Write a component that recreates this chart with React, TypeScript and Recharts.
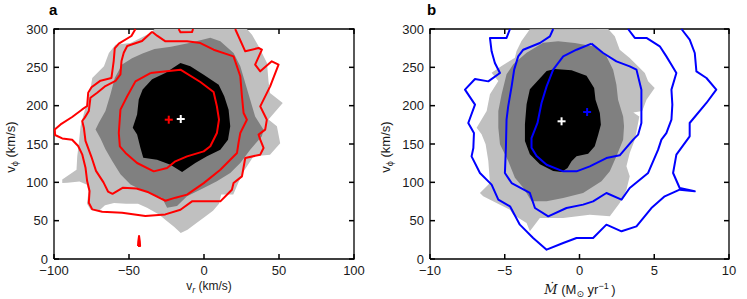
import { ScatterChart, Scatter, XAxis, YAxis } from 'recharts';

type P = [number, number];

const vrTicks = [-100, -50, 0, 50, 100];
const mdotTicks = [-10, -5, 0, 5, 10];
const vphiTicks = [0, 50, 100, 150, 200, 250, 300];
const vphiDomain: [number, number] = [0, 300];

// ---- panel a: v_r vs v_phi ----
const aLight: P[] = [
  [-33, 300], [-35.7, 294.8], [-49, 281.7], [-59, 279.6], [-63.4, 268.7], [-66.7, 251.3],
  [-74.5, 236], [-76, 218.7], [-77.4, 207.8], [-80, 190.4], [-82.3, 173], [-83.4, 151.3],
  [-84.5, 134], [-85, 116.5], [-94.5, 103.8], [-94.5, 99], [-91, 99.5], [-83, 101],
  [-78, 97], [-77, 88], [-78, 72], [-75.5, 64], [-70, 63], [-66, 70], [-60, 73], [-52, 72],
  [-44, 72], [-38, 67], [-30, 58], [-25, 50], [-20, 42], [-15.5, 34], [-11, 38], [-5, 47],
  [0, 54], [6, 63], [10, 72], [11.5, 84], [19.5, 84], [23, 100], [26.4, 114], [33, 134],
  [44, 136], [50.8, 151], [48.6, 173], [43, 182], [52.5, 203.5], [44, 216.5], [43, 231.7],
  [42, 255.6], [36.4, 277.4], [32, 292.6], [28.6, 300],
];
const aMid: P[] = [
  [10.9, 283.9], [4.2, 288.7], [-9.1, 282], [-22, 277], [-33, 274], [-41, 268], [-48, 262],
  [-54.6, 253.8], [-59.5, 236.1], [-62.4, 214.7], [-65.7, 193], [-70.1, 177.8], [-72.3, 169],
  [-69, 157.3], [-65.7, 143], [-61.2, 127.8], [-55.7, 110.4], [-49, 97.3], [-40.2, 88.7],
  [-28, 80], [-24.6, 67], [-18, 69], [-11.3, 81.7], [-0.2, 92.6], [8.6, 101.3], [17.5, 112.2],
  [24.2, 125.2], [30.8, 142.6], [38.6, 160], [39.7, 168.7], [34.1, 186], [30.8, 207.8],
  [27.5, 229.6], [24.2, 251.3], [19.7, 268.7],
];
const aBlack: P[] = [
  [-15.7, 255.7], [-9.1, 251.3], [-0.2, 240.4], [9.8, 227.4], [13.5, 212.2], [16.4, 194.8],
  [17.5, 173], [16, 155.7], [10.9, 142.6], [2, 133.9], [-5.8, 125.2], [-14.6, 113.5],
  [-22.4, 123], [-31.3, 129.6], [-40.5, 132], [-42.4, 145], [-44.6, 162.5], [-47.5, 171.2],
  [-44.6, 188.6], [-43.5, 208.2], [-40.9, 221.2], [-34.6, 234.3], [-25.8, 242.6], [-20, 250],
];
const aRedInner: P[] = [
  [-35.7, 242.6], [-15.7, 247], [-2.4, 230.9], [6.4, 217.8], [8.6, 199.1], [10, 181.7],
  [8.6, 164.3], [4.2, 147], [-0.2, 140.4], [-11.3, 133.9], [-19.1, 127.4], [-24.6, 118.7],
  [-33.5, 114.3], [-44.6, 125.2], [-52.3, 138.3], [-56.1, 147], [-56.8, 164.3], [-55.7, 194.8],
  [-51.2, 212.2], [-45.7, 231.7], [-35.7, 242.6],
];
const aRedMid: P[] = [
  [-34.6, 296.5], [-41.3, 284.3], [-51.2, 277.8], [-53.5, 269], [-55, 258.2], [-55.7, 240.8],
  [-59, 232.2], [-65.7, 225.6], [-71.2, 216.9], [-75.7, 210.4], [-76.8, 193], [-79.5, 184.4],
  [-81.2, 180], [-80.1, 171.2], [-79, 154], [-75, 133], [-72, 115], [-67, 100], [-64, 88],
  [-61, 85], [-54, 93], [-45, 92], [-37, 87], [-25.7, 76], [-19, 80], [-11.3, 84], [-0.2, 99],
  [10.9, 116.5], [22, 138.3], [23, 151.3], [24.2, 164.3], [28.6, 181.7], [26.4, 190.4],
  [25.3, 212.2], [24.2, 238.3], [19.7, 264.3], [6.4, 273], [-2.4, 281.7], [-11.3, 284],
  [-25.7, 283.9], [-31.3, 291.3], [-34.6, 296.5],
];
const aRedOuter: P[] = [
  [-45.7, 300], [-48.4, 290.9], [-56.8, 280.8], [-59.5, 274.7], [-60.2, 258.2], [-61.7, 236.1],
  [-69, 232.6], [-75, 224], [-77.2, 216.9], [-77.9, 199.6], [-81.2, 195.1], [-87.9, 185.2],
  [-95.6, 175.5], [-99.5, 169], [-99.3, 161.7], [-94.5, 157.3], [-87.9, 155.6], [-83.9, 147.4],
  [-81.2, 136.5], [-79, 119.1], [-77.9, 101.7], [-76.3, 88.7], [-76.8, 73.4], [-74.5, 64.7],
  [-67.9, 61.7], [-54.6, 60.4], [-39.1, 56.1], [-25.8, 58.2], [-15.7, 64.3], [-8, 75.2],
  [-2.4, 75.2], [10.9, 75.2], [18.6, 90.4], [19.7, 99.1], [25.3, 107.8], [27.5, 131.7],
  [37.5, 136.1], [39.7, 144.8], [37.5, 155.7], [36.4, 162.2], [40.8, 168.7], [41.9, 181.7],
  [37.5, 199.1], [44.1, 225.2], [49.7, 253.5], [45.2, 257.8], [37.5, 244.8], [34.1, 253.5],
  [38.6, 273], [36.4, 275.2], [27.5, 270.9], [20.8, 300],
];
const aRedTop: P[] = [[-16.9, 300], [-15.7, 295.7], [-8, 296], [-7.3, 300]];
const aRedDrop: P[] = [[-44, 17], [-42.6, 17], [-42.8, 23], [-43.3, 30], [-43.8, 23], [-44, 17]];
const aWhiteMark: P[] = [[-15.5, 182.6]];
const aRedMark: P[] = [[-23.5, 181.7]];

// ---- panel b: Mdot vs v_phi ----
const bLight: P[] = [
  [-3.32, 299.6], [-3.88, 284.3], [-4.21, 271.3], [-4.32, 262.6], [-5.21, 251.7], [-5.88, 243],
  [-5.43, 232.2], [-5.99, 214.8], [-6.21, 193], [-6.88, 171.3], [-6.55, 162.6], [-6.28, 149.6],
  [-6.1, 127.8], [-5.99, 99.1], [-6.66, 86.1], [-6.44, 81.7], [-5.55, 73], [-4.65, 64.3],
  [-4.43, 57.8], [-3.54, 47], [-3.32, 36.1], [-2.65, 53.5], [-1.09, 53.5], [0.69, 57.8],
  [2.03, 55.7], [2.69, 73], [3.14, 90.4], [3.36, 107.8], [3.14, 120.9], [3.36, 138.3],
  [3.7, 155.7], [3.9, 175], [4.0, 186], [3.6, 191], [4.2, 193], [4.48, 207.8], [5.03, 223],
  [4.59, 231.7], [4.37, 242.6], [3.36, 262.2], [2.69, 273], [2.36, 290.4], [1.92, 300],
];
const bMid: P[] = [
  [-2.43, 282.2], [-3.54, 269.1], [-4.43, 253.9], [-4.88, 240.9], [-5.21, 214.8], [-5.43, 193],
  [-5.43, 171.3], [-5.32, 149.6], [-4.77, 127.8], [-4.32, 106.1], [-3.76, 93], [-3.21, 75.2],
  [-2.2, 75.2], [-1.09, 79.6], [0.24, 86.1], [1.47, 101.3], [2.03, 114.3], [2.47, 133.9],
  [2.92, 155.7], [2.98, 173], [2.92, 186], [2.58, 207.8], [2.47, 227.4], [2.25, 247],
  [1.8, 264.3], [0.91, 277.4], [-0.31, 281.7], [-1.43, 283.9],
];
const bBlack: P[] = [
  [-1.65, 247.8], [-0.53, 246.1], [0.47, 239.1], [0.98, 223], [1.07, 207.8], [1.36, 190.4],
  [1.43, 175.2], [1.25, 162.2], [1.02, 147], [0.58, 137.4], [-0.2, 133.9], [-0.53, 127.4],
  [-0.8, 118.7], [-1.2, 113.5], [-1.76, 114.8], [-2.65, 123.5], [-3.32, 136.5], [-3.65, 153.9],
  [-3.65, 175.7], [-3.54, 201.7], [-3.32, 221.3], [-2.2, 245.2],
];
const bBlueInner: P[] = [
  [0.8, 280.9], [-0.2, 273], [-1.09, 264.3], [-1.76, 247], [-2.2, 225.2], [-2.54, 203.5],
  [-2.81, 177.4], [-3.21, 157.8], [-3.21, 145.2], [-2.87, 134.3], [-2.2, 123], [-1.09, 114.3],
  [-0.2, 114.3], [0.69, 120.9], [1.8, 131.7], [2.69, 135.2], [3.59, 155.7], [3.92, 162.2],
  [4.14, 177.4], [4.14, 199.1], [4.14, 220.9], [3.81, 247], [3.36, 251.3], [2.47, 257.8],
  [1.58, 268.7], [0.8, 280.9],
];
const bBlueMid: P[] = [
  [-1.76, 300], [-1.98, 290.4], [-2.65, 281.7], [-3.76, 273], [-4.1, 264.3], [-4.37, 247],
  [-4.54, 225.2], [-4.77, 199.1], [-4.88, 181.7], [-4.92, 147], [-4.99, 112.2], [-4.54, 99.1],
  [-3.32, 86.1], [-2.98, 66.5], [-2.09, 55.7], [-0.87, 66.5], [0.24, 70.9], [0.91, 75.2],
  [1.8, 86.1], [2.81, 77.4], [3.36, 92.6], [4.59, 112.2], [5.26, 142.6], [5.48, 155.7],
  [5.81, 164.3], [6.15, 181.7], [6.21, 201.3], [6.15, 220.9], [6.48, 242.6], [6.15, 253.5],
  [5.81, 264.3], [5.37, 277.4], [4.48, 288.3], [3.7, 288.3], [3.25, 300],
];
const bBlueOuter: P[] = [
  [-4.65, 300], [-4.88, 288.3], [-5.99, 288.3], [-5.88, 270.9], [-5.66, 255.7], [-5.32, 242.6],
  [-6.1, 231.7], [-6.99, 234.8], [-7.66, 220.9], [-6.99, 201.3], [-7.44, 177.4], [-7.06, 164.3],
  [-7.1, 144.8], [-7.22, 133.9], [-6.66, 112.2], [-5.88, 97], [-5.43, 77.4], [-4.65, 68.7],
  [-3.99, 44.8], [-3.1, 27.4], [-2.2, 12.2], [-1.09, 20.9], [-0.2, 27.4], [0.91, 27.4],
  [1.8, 44.8], [2.81, 36.1], [3.81, 42.6], [4.81, 66.5], [5.7, 81.7], [6.7, 90.4], [7.71, 88.3],
  [6.7, 92.6], [6.26, 112.2], [6.48, 136.1], [7.37, 160], [7.37, 177.4], [8.49, 203.5],
  [9.15, 220.9], [8.49, 236.1], [7.82, 244.8], [7.71, 268.7], [7.37, 286.1], [6.82, 300],
];
const bWhiteMark: P[] = [[-1.2, 179.6]];
const bBlueMark: P[] = [[0.51, 191.7]];

const FONT = '"Liberation Sans", Arial, Helvetica, sans-serif';
const FRAME = '#000';
const TICK_TEXT = { fill: '#1a1a1a', fontSize: 13, fontFamily: FONT };

const pts = (arr: P[]) => arr.map(([x, y]) => ({ x, y }));
const fmt = (v: number) => (v < 0 ? '\u2212' + Math.abs(v) : String(v));
const noDot = () => <g />;
const plus = (color: string) => (props: any) => {
  const { cx, cy } = props;
  return (
    <g>
      <line x1={cx - 4} x2={cx + 4} y1={cy} y2={cy} stroke={color} strokeWidth={2} />
      <line x1={cx} x2={cx} y1={cy - 4} y2={cy + 4} stroke={color} strokeWidth={2} />
    </g>
  );
};
// short inward tick mark drawn at a point on the frame
const tickMark = (dx: number, dy: number) => (props: any) => {
  const { cx, cy } = props;
  return <line x1={cx} y1={cy} x2={cx + dx * 5} y2={cy + dy * 5} stroke="#000" strokeWidth={1.5} />;
};

interface PanelProps {
  width: number;
  left: number;
  right: number;
  xDomain: [number, number];
  xTicks: number[];
  fills: { data: P[]; color: string }[];
  lines: { data: P[]; color: string }[];
  marks: { data: P[]; color: string }[];
}

function Panel({ width, left, right, xDomain, xTicks, fills, lines, marks }: PanelProps) {
  const [x0, x1] = xDomain;
  const [y0, y1] = vphiDomain;
  const frame = [{ x: x0, y: y0 }, { x: x0, y: y1 }, { x: x1, y: y1 }, { x: x1, y: y0 }, { x: x0, y: y0 }];
  return (
    <ScatterChart width={width} height={299} margin={{ top: 29, right, bottom: 0, left: 0 }}>
      <XAxis
        dataKey="x"
        type="number"
        domain={xDomain}
        ticks={xTicks}
        tickFormatter={fmt}
        height={40}
        tickMargin={1}
        tickLine={false}
        axisLine={false}
        tick={TICK_TEXT}
      />
      <YAxis
        dataKey="y"
        type="number"
        domain={vphiDomain}
        ticks={vphiTicks}
        width={left}
        tickMargin={0}
        tickLine={false}
        axisLine={false}
        tick={TICK_TEXT}
      />
      <Scatter data={frame} line={{ stroke: FRAME, strokeWidth: 1.3, fill: 'none' }} shape={noDot} isAnimationActive={false} />
      <Scatter data={xTicks.map((t) => ({ x: t, y: y0 }))} shape={tickMark(0, -1)} isAnimationActive={false} />
      <Scatter data={xTicks.map((t) => ({ x: t, y: y1 }))} shape={tickMark(0, 1)} isAnimationActive={false} />
      <Scatter data={vphiTicks.map((t) => ({ x: x0, y: t }))} shape={tickMark(1, 0)} isAnimationActive={false} />
      <Scatter data={vphiTicks.map((t) => ({ x: x1, y: t }))} shape={tickMark(-1, 0)} isAnimationActive={false} />
      {fills.map((f, i) => (
        <Scatter
          key={'f' + i}
          data={pts(f.data)}
          line={{ stroke: 'none', fill: f.color }}
          shape={noDot}
          isAnimationActive={false}
        />
      ))}
      {lines.map((l, i) => (
        <Scatter
          key={'l' + i}
          data={pts(l.data)}
          line={{ stroke: l.color, strokeWidth: 2, fill: 'none', strokeLinejoin: 'round' }}
          shape={noDot}
          isAnimationActive={false}
        />
      ))}
      {marks.map((m, i) => (
        <Scatter key={'m' + i} data={pts(m.data)} shape={plus(m.color)} isAnimationActive={false} />
      ))}
    </ScatterChart>
  );
}

const textBase = { position: 'absolute' as const, fontFamily: FONT, color: '#1a1a1a', whiteSpace: 'nowrap' as const };
const letterStyle = { ...textBase, top: 1, fontWeight: 'bold' as const, fontSize: 15, lineHeight: '17px', color: '#000' };
const subStyle = { fontSize: 9, verticalAlign: '-3px' };
const supStyle = { fontSize: 9, verticalAlign: '5px' };

function YTitle({ left }: { left: number }) {
  return (
    <div style={{ ...textBase, left, top: 147, fontSize: 13, lineHeight: '15px', transform: 'translate(-50%, -50%) rotate(-90deg)' }}>
      v<span style={subStyle}>ϕ</span> (km/s)
    </div>
  );
}

export default function App() {
  return (
    <div style={{ position: 'absolute', left: 0, top: 0, width: 747, height: 299, background: '#fff' }}>
      <div style={{ position: 'absolute', left: 0, top: 0 }}>
        <Panel
          width={375}
          left={54}
          right={21}
          xDomain={[-100, 100]}
          xTicks={vrTicks}
          fills={[
            { data: aLight, color: '#c0c0c0' },
            { data: aMid, color: '#808080' },
            { data: aBlack, color: '#000000' },
          ]}
          lines={[
            { data: aRedInner, color: '#ff0000' },
            { data: aRedMid, color: '#ff0000' },
            { data: aRedOuter, color: '#ff0000' },
            { data: aRedTop, color: '#ff0000' },
            { data: aRedDrop, color: '#ff0000' },
          ]}
          marks={[
            { data: aRedMark, color: '#ff0000' },
            { data: aWhiteMark, color: '#ffffff' },
          ]}
        />
      </div>
      <div style={{ position: 'absolute', left: 375, top: 0 }}>
        <Panel
          width={372}
          left={55}
          right={18}
          xDomain={[-10, 10]}
          xTicks={mdotTicks}
          fills={[
            { data: bLight, color: '#c0c0c0' },
            { data: bMid, color: '#808080' },
            { data: bBlack, color: '#000000' },
          ]}
          lines={[
            { data: bBlueInner, color: '#0000ff' },
            { data: bBlueMid, color: '#0000ff' },
            { data: bBlueOuter, color: '#0000ff' },
          ]}
          marks={[
            { data: bWhiteMark, color: '#ffffff' },
            { data: bBlueMark, color: '#0000ff' },
          ]}
        />
      </div>
      <YTitle left={13} />
      <YTitle left={388} />
      <div style={{ ...textBase, left: 209, top: 279, fontSize: 12, lineHeight: '14px', transform: 'translateX(-50%)' }}>
        v<span style={{ ...subStyle, fontStyle: 'italic' }}>r</span> (km/s)
      </div>
      <div style={{ ...textBase, left: 580, top: 279, fontSize: 13, lineHeight: '15px', transform: 'translateX(-50%)' }}>
        <span style={{ fontStyle: 'italic', fontFamily: '"DejaVu Serif", serif' }}>Ṁ</span> (M
        <span style={{ ...subStyle, fontFamily: '"DejaVu Sans", sans-serif' }}>⊙</span> yr
        <span style={supStyle}>{'\u22121'}</span>{'\u2009)'}
      </div>
      <div style={{ ...letterStyle, left: 49 }}>a</div>
      <div style={{ ...letterStyle, left: 427 }}>b</div>
    </div>
  );
}
